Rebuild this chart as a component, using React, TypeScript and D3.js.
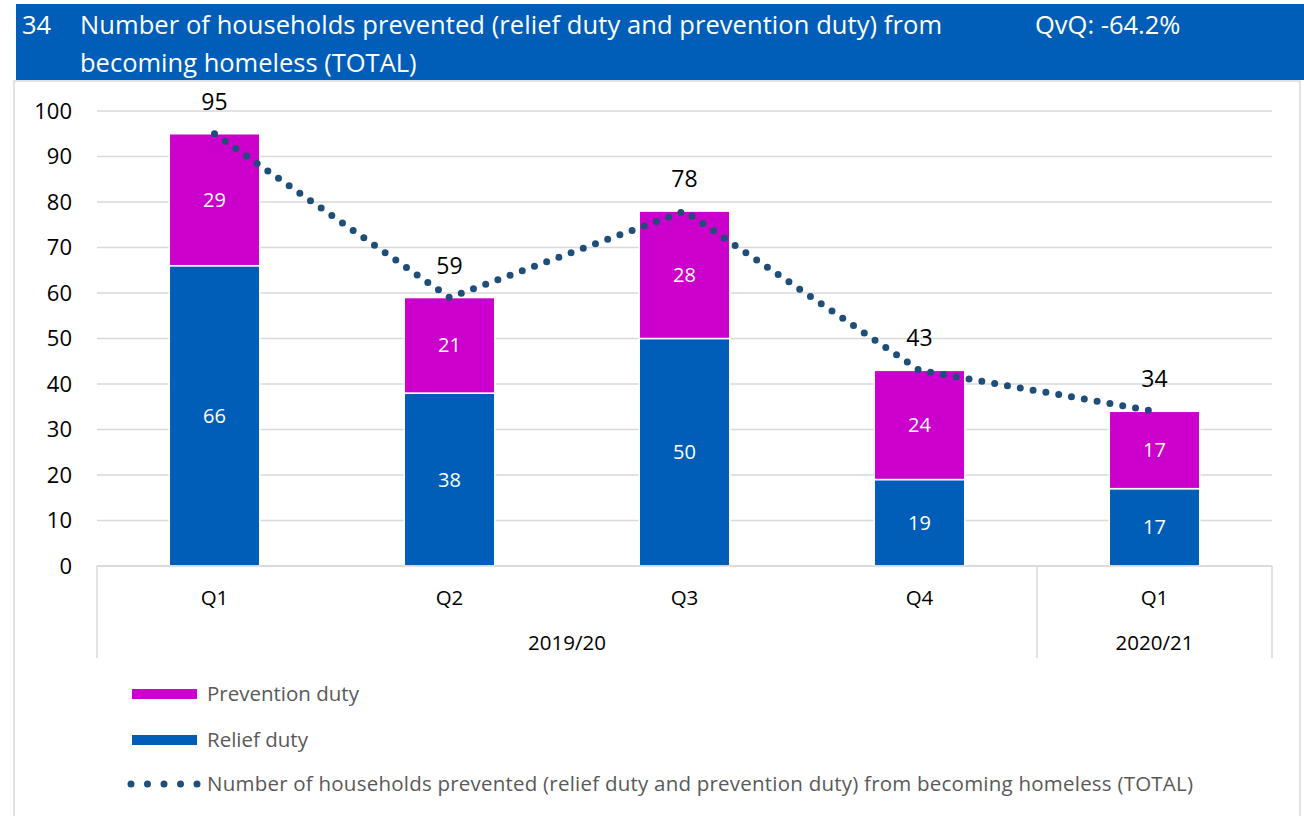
import React from 'react';
import * as d3 from 'd3';

// chart values
const quarters = ['Q1', 'Q2', 'Q3', 'Q4', 'Q1'];
const years = [
  { label: '2019/20', from: 0, to: 4 },
  { label: '2020/21', from: 4, to: 5 },
];
const relief = [66, 38, 50, 19, 17];
const prevention = [29, 21, 28, 24, 17];
const totals = [95, 59, 78, 43, 34];
const yTicks = [0, 10, 20, 30, 40, 50, 60, 70, 80, 90, 100];

const W = 1304, H = 816;
const BLUE = '#005eb8', PINK = '#cc00cc', LINE = '#1f4e79';
const FONT = '"Open Sans", Lato, sans-serif';

export default function App() {
  let plot = { left: 97, right: 1272, top: 111, bottom: 566 };

  let x = d3.scaleBand<number>()
    .domain(d3.range(quarters.length))
    .range([plot.left, plot.right])
    .paddingInner(0)
    .paddingOuter(0);
  let y = d3.scaleLinear().domain([0, 100]).range([plot.bottom, plot.top]);

  let barW = x.bandwidth() * 0.385;
  let cx = (i: number) => (x(i) as number) + x.bandwidth() / 2;

  let line = d3.line<number>()
    .x((d, i) => cx(i))
    .y(d => y(d));

  let stack = d3.stack<any, any, string>().keys(['relief', 'prevention'])(
    quarters.map((q, i) => ({ relief: relief[i], prevention: prevention[i] }))
  );
  let colors = [BLUE, PINK];

  return (
    <svg width={W} height={H} style={{ position: 'absolute', left: 0, top: 0, fontFamily: FONT }}>
      <rect x={0} y={0} width={W} height={H} fill="#fff" />
      {/* header */}
      <rect x={16} y={4} width={W - 16} height={76} fill={BLUE} />
      <g fill="#fff" fontSize={25.5}>
        <text x={22} y={34}>34</text>
        <text x={80} y={34} textLength={862} lengthAdjust="spacing">Number of households prevented (relief duty and prevention duty) from</text>
        <text x={80} y={72}>becoming homeless (TOTAL)</text>
        <text x={1035} y={34}>QvQ: -64.2%</text>
      </g>
      {/* chart frame */}
      <path d={`M14,816 V81 H1300 V816`} fill="none" stroke="#d9d9d9" strokeWidth={1.5} />

      {/* gridlines */}
      {yTicks.map(t => (
        <line key={t} x1={plot.left} x2={plot.right} y1={y(t)} y2={y(t)} stroke="#d9d9d9" strokeWidth={1.3} />
      ))}
      {yTicks.map(t => (
        <text key={'l' + t} x={72} y={y(t)} dy="0.35em" textAnchor="end" fontSize={22} fill="#000">{t}</text>
      ))}

      {/* bars */}
      {stack.map((s, k) => (
        <g key={k}>
          {s.map((d, i) => (
            <g key={i}>
              <rect x={cx(i) - barW / 2} y={y(d[1])} width={barW} height={y(d[0]) - y(d[1])}
                fill={colors[k]} stroke="#fff" strokeWidth={1.5} />
              <text x={cx(i)} y={(y(d[0]) + y(d[1])) / 2} dy="0.35em" textAnchor="middle"
                fontSize={20} fill="#fff">{d[1] - d[0]}</text>
            </g>
          ))}
        </g>
      ))}

      {/* category axis */}
      <g stroke="#d9d9d9" strokeWidth={1.5} fill="none">
        <line x1={plot.left} x2={plot.right} y1={plot.bottom} y2={plot.bottom} />
        {[0, 4, 5].map(i => {
          let xx = i === 5 ? plot.right : (x(i) as number);
          return <line key={i} x1={xx} x2={xx} y1={plot.bottom} y2={658} />;
        })}
      </g>
      {quarters.map((q, i) => (
        <text key={i} x={cx(i)} y={598} dy="0.35em" textAnchor="middle" fontSize={20.5} fill="#000">{q}</text>
      ))}
      {years.map(yr => {
        let a = x(yr.from) as number;
        let b = yr.to >= quarters.length ? plot.right : (x(yr.to) as number);
        return <text key={yr.label} x={(a + b) / 2} y={643} dy="0.35em" textAnchor="middle" fontSize={20.5} fill="#000">{yr.label}</text>;
      })}

      {/* total line */}
      <path d={line(totals) as string} fill="none" stroke={LINE} strokeWidth={7}
        strokeLinecap="round" strokeDasharray="0 13" />
      {totals.map((t, i) => (
        <text key={i} x={cx(i)} y={y(t) - 32} dy="0.35em" textAnchor="middle" fontSize={23} fill="#000">{t}</text>
      ))}

      {/* legend */}
      <g fontSize={20.5} fill="#595959">
        <rect x={132} y={689} width={65} height={10} fill={PINK} />
        <text x={207} y={694} dy="0.35em">Prevention duty</text>
        <rect x={132} y={735} width={65} height={10} fill={BLUE} />
        <text x={207} y={740} dy="0.35em">Relief duty</text>
        <line x1={131} x2={198} y1={784} y2={784} stroke={LINE} strokeWidth={7}
          strokeLinecap="round" strokeDasharray="0 16.5" />
        <text x={207} y={784} dy="0.35em" textLength={986} lengthAdjust="spacing">Number of households prevented (relief duty and prevention duty) from becoming homeless (TOTAL)</text>
      </g>
    </svg>
  );
}
